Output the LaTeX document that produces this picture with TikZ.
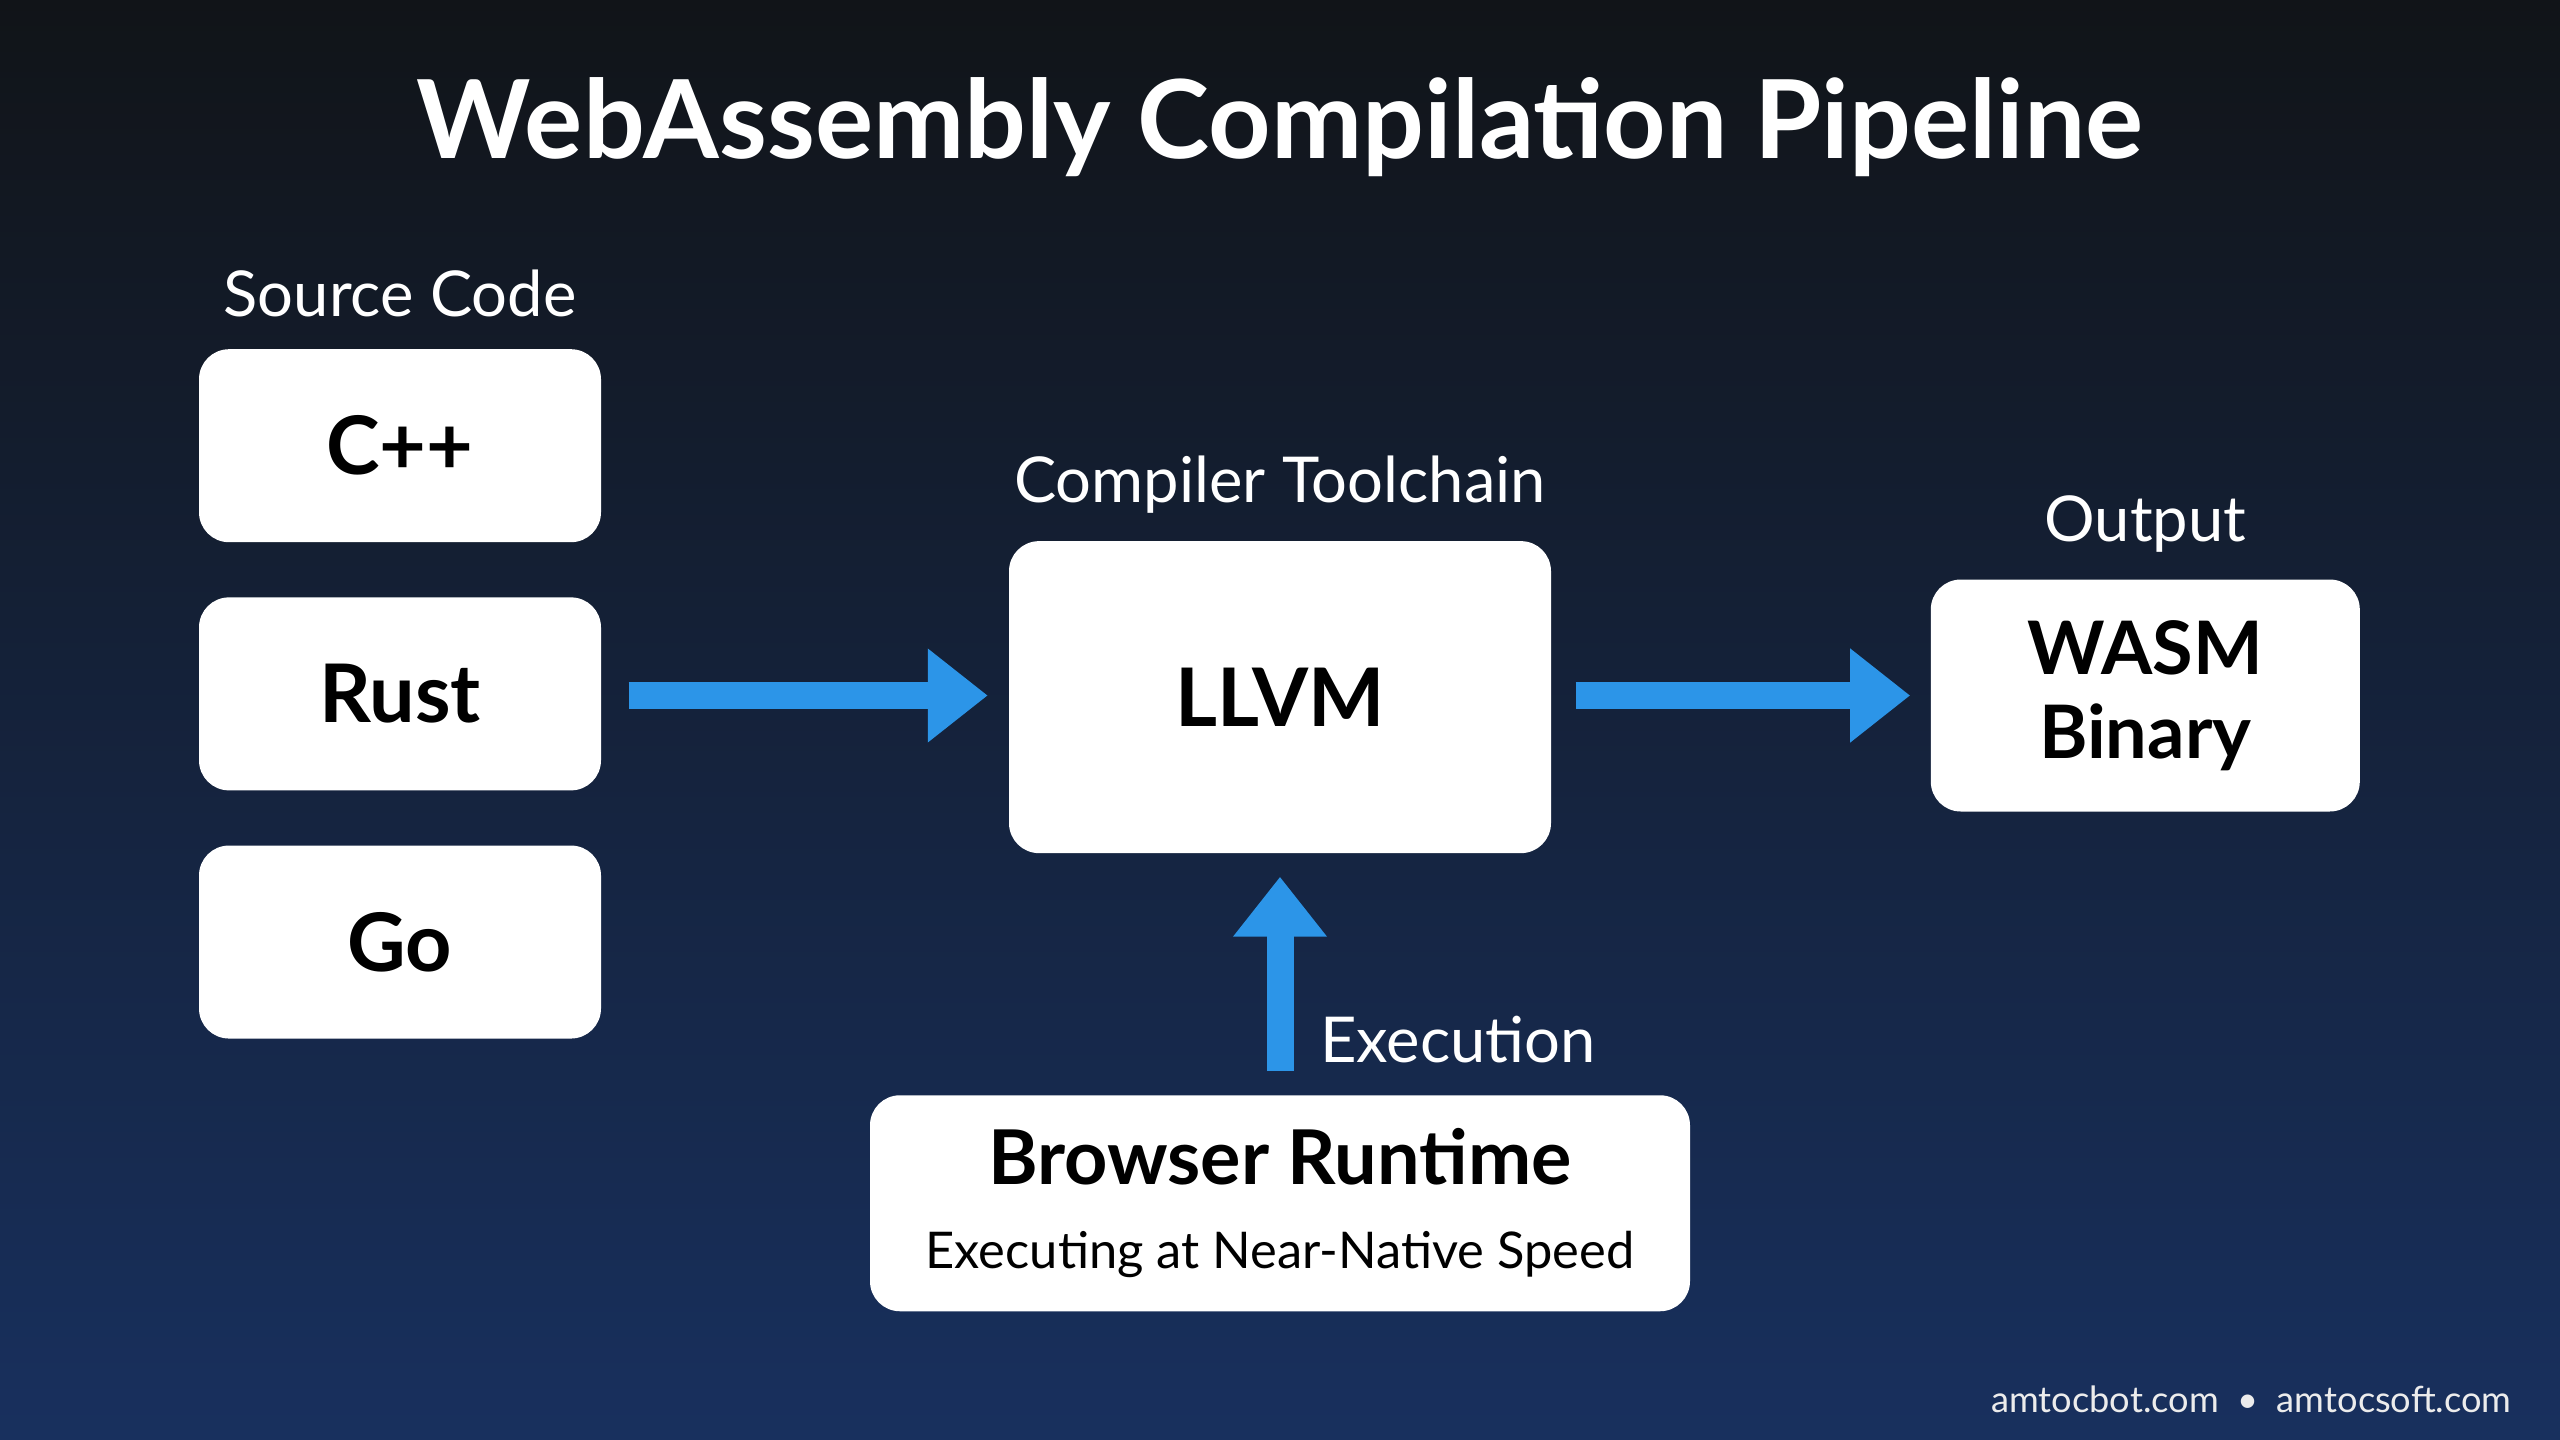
\documentclass[tikz,border=0pt]{standalone}
\usepackage{fontspec}
\setmainfont{Lato}
\usetikzlibrary{arrows.meta}
\definecolor{topbg}{HTML}{111418}
\definecolor{botbg}{HTML}{18305E}
\definecolor{flow}{HTML}{2C95E8}
\begin{document}
\begin{tikzpicture}[x={(0.016327cm,0)},y={(0,-0.016327cm)}]
  \tikzstyle{card}=[fill=white,rounded corners=0.3cm,inner sep=0pt,align=center,
    font=\fontsize{23}{26}\selectfont\bfseries]
  \tikzstyle{caption}=[text=white,font=\fontsize{18}{21}\selectfont]
  \tikzstyle{flow arrow}=[draw=flow,line width=0.27cm,
    -{Triangle[length=0.6cm,width=0.9cm]}]
  \shade[top color=topbg,bottom color=botbg] (0,0) rectangle (1568,882);
  \useasboundingbox (0,0) rectangle (1568,882);
  \node(title)[text=white,font=\fontsize{31}{34}\selectfont\bfseries] at (784,78) {WebAssembly Compilation Pipeline};
  % source languages
  \node(cpp)[card,minimum width=4.02cm,minimum height=1.93cm] at (245,273) {C++};
  \node(rust)[card,minimum width=4.02cm,minimum height=1.93cm] at (245,425) {Rust};
  \node(go)[card,minimum width=4.02cm,minimum height=1.93cm] at (245,577) {Go};
  \node(src)[caption] at (245,180) {Source Code};
  % toolchain and output
  \node(llvm)[card,minimum width=5.42cm,minimum height=3.12cm] at (784,427) {LLVM};
  \node(tool)[caption] at (784,297) {Compiler Toolchain};
  \node(wasm)[card,minimum width=4.29cm,minimum height=2.32cm,font=\fontsize{21}{24}\selectfont\bfseries] at (1314,426) {WASM\\Binary};
  \node(out)[caption] at (1314,321) {Output};
  \node(browser)[card,minimum width=8.2cm,minimum height=2.16cm,font=\fontsize{21.5}{24}\selectfont\bfseries] at (784,737)
    {Browser Runtime\\[0pt]{\fontsize{14.4}{17}\selectfont\mdseries Executing at Near-Native Speed}};
  \node(exec)[caption] at (893,637) {Execution};
  \coordinate(a1) at (385,426); \coordinate(a2) at (965,426); \coordinate(a3) at (784,656);
  \draw[flow arrow](a1)--(605,426);
  \draw[flow arrow](a2)--(1170,426);
  \draw[flow arrow](a3)--(784,537);
  \node(footer)[text=white!85!gray,font=\fontsize{10.3}{12}\selectfont] at (1379,857) {amtocbot.com\ \ •\ \ amtocsoft.com};
\end{tikzpicture}
\end{document}
